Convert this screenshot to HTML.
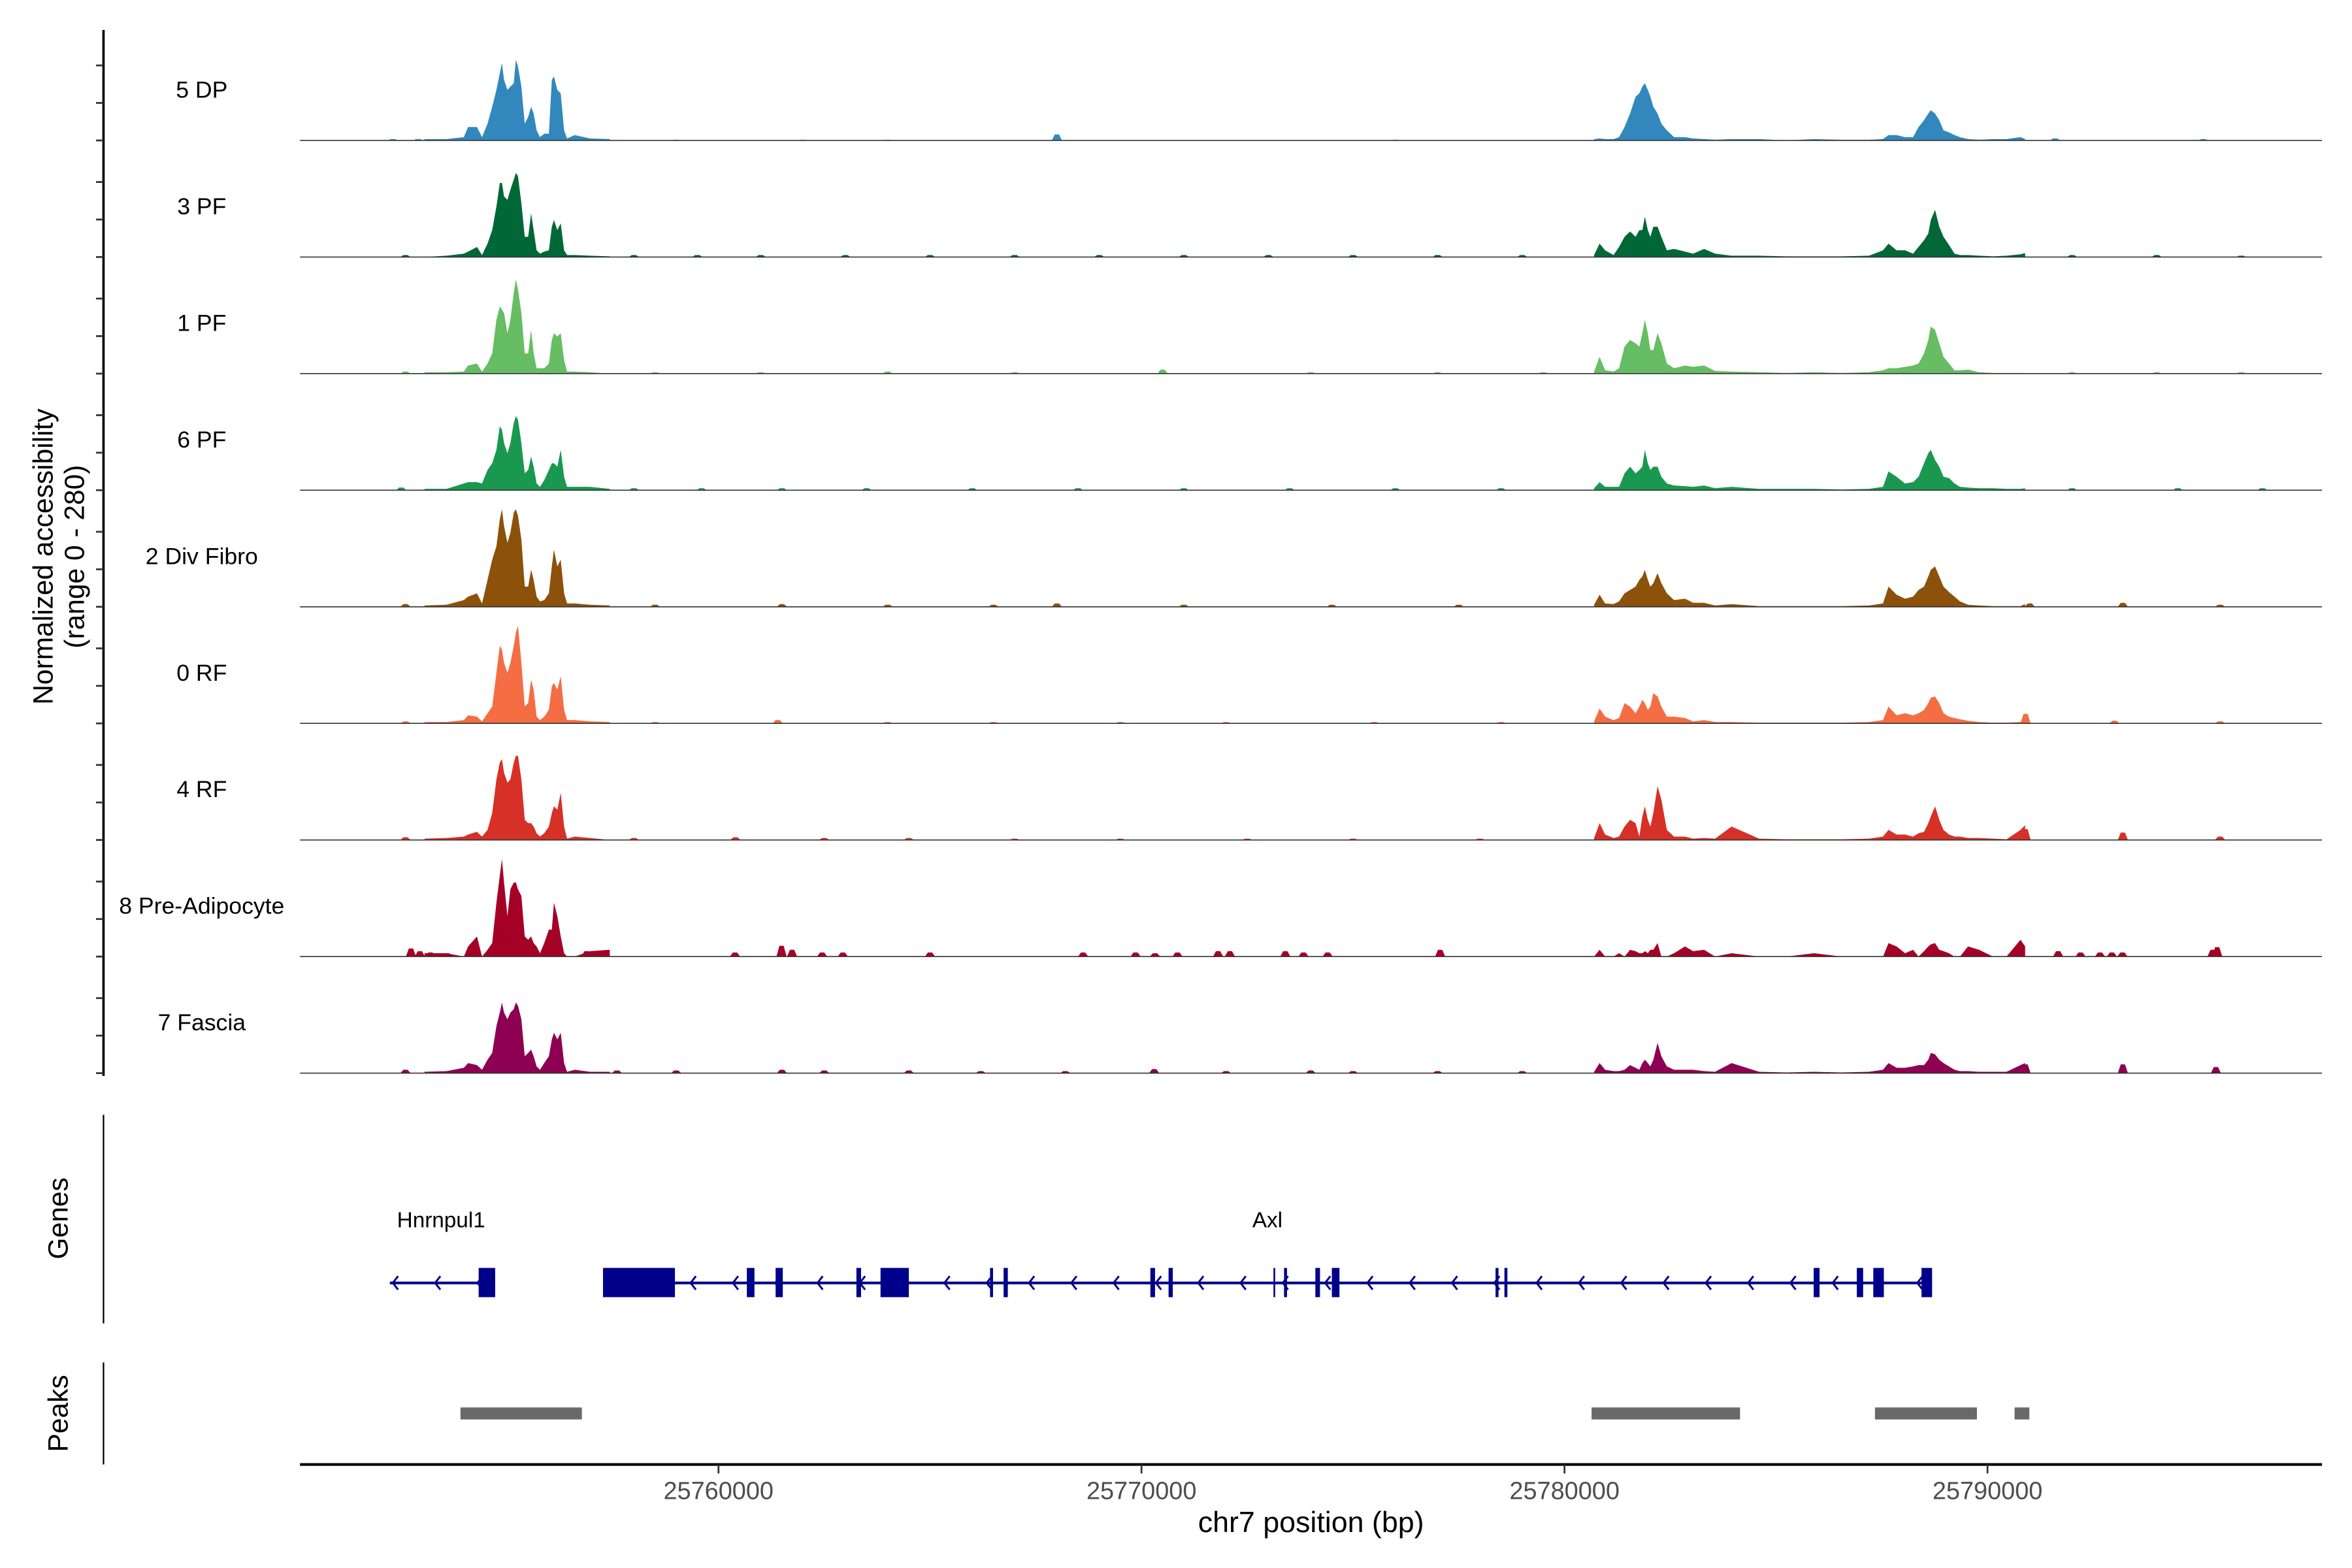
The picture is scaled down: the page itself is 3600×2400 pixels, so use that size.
<!DOCTYPE html>
<html><head><meta charset="utf-8"><style>
html,body{margin:0;padding:0;background:#fff;}
svg{display:block;}
text{font-family:"Liberation Sans",Arial,sans-serif;}
</style></head><body>
<svg id="chart" width="3600" height="2400" viewBox="0 0 1568 1045" preserveAspectRatio="none" xmlns="http://www.w3.org/2000/svg">
<rect x="0" y="0" width="1568" height="1045" fill="#fff"/>
<g id="tracks"></g>
<line x1="69" y1="20" x2="69" y2="717" stroke="#000" stroke-width="1.6"/>
<g id="yticks"></g>
<text transform="translate(35,371) rotate(-90)" text-anchor="middle" font-size="18.5" fill="#000">Normalized accessibility</text>
<text transform="translate(56,371) rotate(-90)" text-anchor="middle" font-size="18.5" fill="#000">(range 0 - 280)</text>
<line x1="69" y1="743" x2="69" y2="882" stroke="#000" stroke-width="1"/>
<text transform="translate(45,812) rotate(-90)" text-anchor="middle" font-size="18.5" fill="#000">Genes</text>
<g id="genes"></g>
<line x1="69" y1="908" x2="69" y2="976" stroke="#000" stroke-width="1"/>
<text transform="translate(45,942) rotate(-90)" text-anchor="middle" font-size="18.5" fill="#000">Peaks</text>
<g id="peaks"></g>
<line x1="200" y1="976" x2="1548" y2="976" stroke="#000" stroke-width="1.8"/>
<g id="xticks"></g>
<text x="874" y="1021" text-anchor="middle" font-size="19.5" fill="#000">chr7 position (bp)</text>
</svg>
<script>
// positions are kb offsets from 25750000
const trackNames = ["5 DP","3 PF","1 PF","6 PF","2 Div Fibro","0 RF","4 RF","8 Pre-Adipocyte","7 Fascia"];
const trackColors = ["#3288bd","#006837","#66bd63","#1a9850","#8c510a","#f46d43","#d73027","#a50026","#8e0152"];
const leftPos = [3.05,3.57,3.98,4.08,4.29,4.41,4.54,4.65,4.75,4.83,4.88,4.93,5.01,5.08,5.16,5.21,5.26,5.34,5.42,5.50,5.57,5.63,5.70,5.78,5.88,5.99,6.06,6.11,6.19,6.27,6.35,6.42,6.60,6.96,7.43];
const leftVals = [
[2,2,5,20,20,5,25,50,75,100,115,90,75,80,85,120,110,80,25,35,50,40,15,5,10,10,90,95,75,70,15,3,8,3,2],
[0,2,5,8,15,3,20,40,75,110,110,90,85,100,115,125,120,80,30,30,65,40,10,5,8,10,45,55,40,50,10,3,3,2,1],
[2,2,3,12,15,3,15,30,80,100,95,90,60,80,120,140,125,90,30,30,65,30,8,8,8,15,50,60,55,60,20,3,3,2,0],
[2,2,10,12,12,10,30,40,60,95,90,70,55,70,100,110,105,70,25,30,50,35,10,5,15,30,40,40,35,60,20,5,5,5,2],
[2,3,10,15,20,5,40,70,90,130,145,120,95,110,140,145,135,100,30,30,55,40,15,8,10,20,60,85,60,70,20,5,5,3,2],
[2,2,5,12,10,3,15,25,75,115,110,90,75,90,115,135,145,90,25,30,65,50,10,5,10,20,55,60,50,70,20,5,5,3,2],
[2,3,5,8,12,5,15,40,90,115,120,100,85,90,115,125,125,90,30,25,25,20,10,5,10,20,40,50,45,70,20,2,5,3,0],
[5,5,0,15,30,0,10,20,80,120,145,110,60,100,110,110,100,90,30,25,30,20,15,5,20,40,40,80,60,30,5,0,0,8,10],
[2,3,8,15,12,5,20,30,70,90,105,90,80,90,95,105,100,80,25,30,35,25,10,5,15,25,50,60,50,60,15,2,5,2,2]
];
const rightPos = [30.70,30.83,30.96,31.16,31.29,31.42,31.55,31.68,31.77,31.84,31.90,31.97,32.03,32.10,32.20,32.29,32.42,32.59,32.85,33.04,33.30,33.56,33.95,34.60,35.25,35.90,36.55,37.20,37.53,37.66,37.85,38.05,38.24,38.37,38.50,38.60,38.66,38.76,38.86,38.96,39.09,39.22,39.35,39.54,39.80,40.13,40.45,40.78,40.89];
const rightVals = [
[2,3,2,2,5,20,40,65,70,80,85,75,65,50,40,25,15,5,5,3,2,1,2,2,0,2,1,1,2,8,8,5,5,20,30,40,45,40,30,15,12,8,5,2,1,2,2,5,2],
[3,20,10,3,15,30,38,30,40,40,60,40,30,45,45,30,10,12,8,5,12,5,2,2,1,1,1,2,10,20,10,10,5,15,25,35,55,70,45,30,18,5,3,3,2,1,2,4,6],
[3,25,5,3,8,40,50,45,40,60,80,60,35,35,60,45,15,8,12,10,12,4,3,2,1,2,1,2,5,8,8,10,12,15,30,50,70,65,45,25,15,5,5,6,2,1,1,1,1],
[3,12,5,5,5,25,35,25,30,35,60,40,30,35,35,20,10,7,6,5,7,3,5,2,2,2,1,2,5,28,20,10,12,20,40,55,60,45,35,20,18,10,5,4,3,3,2,2,3],
[3,18,5,4,8,20,25,30,40,45,55,40,30,35,50,35,20,10,12,6,6,2,4,1,1,1,1,2,5,30,18,12,15,25,30,45,55,60,45,30,22,15,8,3,2,1,1,1,4],
[3,22,10,5,8,30,25,15,25,35,30,20,25,45,40,25,10,10,8,3,5,2,2,1,1,1,1,2,5,25,12,15,12,15,20,30,38,40,30,15,10,8,6,4,2,1,1,2,10],
[3,25,8,3,5,20,30,25,5,35,50,30,20,40,80,60,15,5,5,2,3,2,20,2,1,1,1,2,5,15,8,8,5,10,12,25,35,50,30,15,8,5,5,3,3,2,1,15,22],
[0,10,0,0,5,0,10,8,5,5,8,5,10,10,20,0,0,5,15,8,10,0,5,0,0,5,0,0,0,20,15,5,10,0,8,15,18,20,10,8,5,0,0,15,10,0,0,25,15],
[2,15,5,3,3,5,12,8,5,15,20,15,10,20,45,25,10,5,5,5,3,2,15,2,1,2,1,2,5,15,8,8,10,12,12,20,30,28,20,15,10,5,3,3,2,2,2,12,15]
];
// small isolated blips: [kb offset, value]
const blipPos = [
[2.3,2.9,9.0,12.0,14.0,18.0,26.0,41.6,45.1],
[2.6,8.0,9.5,11.0,13.0,15.0,17.0,19.0,21.0,23.0,25.0,27.0,29.0,42.0,44.0,46.0],
[2.6,8.5,11.0,14.0,17.0,20.5,24.0,27.0,29.5,42.0,44.0,46.0],
[2.5,8.0,9.6,11.5,13.5,16.0,18.5,21.0,23.5,26.0,28.5,42.0,44.5,46.5],
[2.6,8.5,11.5,14.0,16.5,18.0,21.0,24.5,27.5,41.0,43.2,45.5],
[2.6,8.5,11.4,14.0,16.5,19.5,22.0,25.5,28.5,40.9,43.0,45.5],
[2.6,8.0,10.4,12.5,14.5,17.0,19.5,22.5,25.0,28.0,40.9,43.2,45.5],
[2.73,2.94,3.19,3.58,6.88,7.27,10.39,11.49,11.74,12.45,12.94,15.0,18.62,19.86,20.32,20.85,21.81,22.09,23.4,23.83,24.4,27.06,41.67,42.2,42.66,42.94,43.19,45.32,45.43],
[2.6,3.6,7.6,9.0,11.5,12.5,14.5,16.2,18.2,20.3,22.0,24.0,25.0,27.0,29.0,40.9,43.2,45.4]
];
const blipVals = [
[2,2,1,1,1,9,1,3,2],
[3,3,3,3,3,3,3,3,3,3,3,3,3,3,3,2],
[3,2,2,3,2,6,2,2,2,2,2,2],
[4,3,3,3,3,3,3,3,3,3,3,3,3,3],
[4,3,4,3,3,5,3,3,3,5,6,3],
[3,2,5,2,2,2,2,2,2,14,4,3],
[4,3,4,3,3,2,2,2,2,2,16,11,5],
[12,8,6,5,8,6,6,16,10,6,6,6,6,6,5,6,8,8,8,6,6,10,8,6,6,6,6,10,14],
[5,3,4,4,5,4,4,3,3,6,3,4,3,3,3,13,13,9]
];
const xTickVals = [25760000,25770000,25780000,25790000];
const geneNames = ["Hnrnpul1","Axl"];
const geneStarts = [2.23,7.27];
const geneEnds = [4.72,38.69];
const geneLabelPos = [2.4,22.62];
const exonStarts = [4.33,7.27,10.67,11.35,13.26,13.83,16.42,16.74,20.21,20.64,23.12,23.37,24.11,24.50,28.37,28.58,35.89,36.91,37.30,38.44];
const exonEnds =   [4.72,8.97,10.85,11.52,13.37,14.50,16.49,16.84,20.32,20.74,23.16,23.44,24.22,24.68,28.44,28.65,36.03,37.06,37.55,38.69];
const peakStarts = [3.90,30.64,37.34,40.64];
const peakEnds =   [6.77,34.15,39.75,40.99];

const NS = "http://www.w3.org/2000/svg";
const X0 = 200, X1 = 1548;
function xKb(p){ return 479 + (p - 10) * 28.2; }
function xBp(bp){ return 479 + (bp - 25760000) / 1000 * 28.2; }
const trackTop0 = 93.6, trackStep = 77.7, yMax = 156, trackH = 70;
function yVal(v, base){ return base - v / yMax * trackH; }
function mk(tag, attrs, parent){ const e = document.createElementNS(NS, tag); for (const k in attrs) e.setAttribute(k, attrs[k]); parent.appendChild(e); return e; }

const gT = document.getElementById('tracks');
const gY = document.getElementById('yticks');
trackNames.forEach((name, i) => {
  const base = trackTop0 + i * trackStep;
  const g = mk('g', {}, gT);
  
  
  const col = trackColors[i];
  const clusters = [[leftPos, leftVals[i]], [rightPos, rightVals[i]]];
  clusters.forEach(([pos, vals], ci) => {
    let d = 'M' + xKb(pos[0]).toFixed(2) + ',' + base;
    for (let k = 0; k < pos.length; k++) d += 'L' + xKb(pos[k]).toFixed(2) + ',' + yVal(vals[k], base).toFixed(2);
    d += 'L' + xKb(pos[pos.length - 1]).toFixed(2) + ',' + base + 'Z';
    const a = mk('path', {d: d, fill: col}, g);
    
    
  });
  blipPos[i].forEach((p, k) => {
    const v = blipVals[i][k];
    const d = 'M' + xKb(p - 0.12).toFixed(2) + ',' + base + 'L' + xKb(p - 0.05).toFixed(2) + ',' + yVal(v, base).toFixed(2) + 'L' + xKb(p + 0.05).toFixed(2) + ',' + yVal(v, base).toFixed(2) + 'L' + xKb(p + 0.12).toFixed(2) + ',' + base + 'Z';
    const b = mk('path', {d: d, fill: col}, g);
    
    
  });
  const bl = mk('line', {x1: X0, x2: X1, y1: base, y2: base, stroke: '#333', 'stroke-width': 0.7}, g);
  
  
  const t = mk('text', {x: 134.5, y: base - 28.5, 'text-anchor': 'middle', 'font-size': 15.5, fill: '#000'}, g);
  t.textContent = name;
  
  
  [0, 25, 50].forEach(off => {
    const tk = mk('line', {x1: 64, x2: 69, y1: base - off, y2: base - off, stroke: '#333', 'stroke-width': 1.2}, gY);
    
    
  });
});

// genes
const gG = document.getElementById('genes');
const gy = 855;
geneNames.forEach((n, i) => {
  const ln = mk('line', {x1: xKb(geneStarts[i]), x2: xKb(geneEnds[i]), y1: gy, y2: gy, stroke: '#00008b', 'stroke-width': 1.8}, gG);
  
  
  for (let x = xKb(geneStarts[i]) + 2; x < xKb(geneEnds[i]) - 3; x += 28.2) {
    const ch = mk('path', {d: 'M' + (x + 3.5) + ',' + (gy - 4.5) + 'L' + x + ',' + gy + 'L' + (x + 3.5) + ',' + (gy + 4.5), fill: 'none', stroke: '#00008b', 'stroke-width': 1.3}, gG);
    
    
  }
  const lt = mk('text', {x: xKb(geneLabelPos[i]), y: 818, 'font-size': 14.5, fill: '#000'}, gG);
  lt.textContent = n;
  
  
});
exonStarts.forEach((s, i) => {
  const e = mk('rect', {x: xKb(s), y: 845, width: Math.max(1, xKb(exonEnds[i]) - xKb(s)), height: 19.5, fill: '#00008b'}, gG);
  
  
});

// peaks
const gP = document.getElementById('peaks');
peakStarts.forEach((s, i) => {
  const r = mk('rect', {x: xKb(s), y: 938, width: xKb(peakEnds[i]) - xKb(s), height: 8, fill: '#696969'}, gP);
  
  
});

// x ticks
const gX = document.getElementById('xticks');
xTickVals.forEach(v => {
  const x = xBp(v);
  const tk = mk('line', {x1: x, x2: x, y1: 976, y2: 982, stroke: '#333', 'stroke-width': 1.2}, gX);
  
  
  const lb = mk('text', {x: x, y: 999, 'text-anchor': 'middle', 'font-size': 16.5, fill: '#4d4d4d'}, gX);
  lb.textContent = String(v);
  
  
});
</script>
</body></html>
